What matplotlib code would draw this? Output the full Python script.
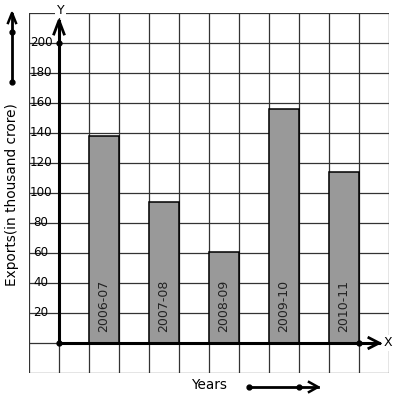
import matplotlib.pyplot as plt

# data
years = ['2006-07', '2007-08', '2008-09', '2009-10', '2010-11']
exports = [138, 94, 61, 156, 114]
y_ticks = [20, 40, 60, 80, 100, 120, 140, 160, 180, 200]

fig = plt.figure(figsize=(3.97, 3.99), dpi=100)
ax = fig.add_axes([29 / 397, 26 / 399, 360 / 397, 360 / 399])
ax.set_xlim(-1, 11)
ax.set_ylim(-20, 220)
ax.axis('off')

fs = 9
gc = '#333333'

# squared paper
for gx in range(-1, 12):
    ax.plot([gx, gx], [-20, 220], color=gc, lw=0.9, zorder=1)
for gy in range(-20, 221, 20):
    ax.plot([-1, 11], [gy, gy], color=gc, lw=0.9, zorder=1)

# bars
pos = [1.5 + 2 * i for i in range(len(years))]
ax.bar(pos, exports, width=1, color='#999999', edgecolor='black', lw=1.1, zorder=2)
for p, yr in zip(pos, years):
    ax.text(p, 7, yr, rotation=90, ha='center', va='bottom', fontsize=fs,
            color='#222222', zorder=3)

# y tick labels
for t in y_ticks:
    ax.text(-0.6, t, str(t), ha='center', va='center', fontsize=8.6, zorder=3)

# axes with arrows
ax.plot([0, 0], [0, 215], color='black', lw=2.2, zorder=4, clip_on=False)
ax.plot([-0.17, 0, 0.17], [206, 215, 206], color='black', lw=2, zorder=4, clip_on=False)
ax.plot([0, 10.67], [0, 0], color='black', lw=2.2, zorder=4, clip_on=False)
ax.plot([10.33, 10.67, 10.33], [3.5, 0, -3.5], color='black', lw=2, zorder=4, clip_on=False)
ax.plot([0, 0, 10], [0, 200, 0], 'o', color='black', ms=3.5, zorder=5, clip_on=False)

ax.text(0.05, 222, 'Y', ha='center', va='center', fontsize=fs, zorder=6,
        bbox=dict(facecolor='white', edgecolor='none', pad=1), clip_on=False)
ax.text(10.97, 0, 'X', ha='center', va='center', fontsize=fs, zorder=6,
        bbox=dict(facecolor='white', edgecolor='none', pad=1), clip_on=False)

# axis titles
fig.text(12 / 397, 1 - 195 / 399, 'Exports(in thousand crore)', rotation=90,
         ha='center', va='center', fontsize=9.8)
fig.text(209 / 397, 1 - 385 / 399, 'Years', ha='center', va='center', fontsize=9.8)

# direction arrows beside the titles
fig.add_artist(plt.Line2D([12 / 397, 12 / 397], [1 - 82 / 399, 1 - 14 / 399],
                          color='black', lw=2))
fig.add_artist(plt.Line2D([8 / 397, 12 / 397, 16 / 397], [1 - 23 / 399, 1 - 13 / 399, 1 - 23 / 399],
                          color='black', lw=1.8))
fig.add_artist(plt.Line2D([12 / 397, 12 / 397], [1 - 32 / 399, 1 - 82 / 399],
                          ls='none', marker='o', ms=3.5, color='black'))
fig.add_artist(plt.Line2D([249 / 397, 318 / 397], [1 - 387 / 399, 1 - 387 / 399],
                          color='black', lw=2))
fig.add_artist(plt.Line2D([309 / 397, 318 / 397, 309 / 397], [1 - 382 / 399, 1 - 387 / 399, 1 - 392 / 399],
                          color='black', lw=1.8))
fig.add_artist(plt.Line2D([249 / 397, 299 / 397], [1 - 387 / 399, 1 - 387 / 399],
                          ls='none', marker='o', ms=3.5, color='black'))

fig.savefig('out.png', dpi=100)
